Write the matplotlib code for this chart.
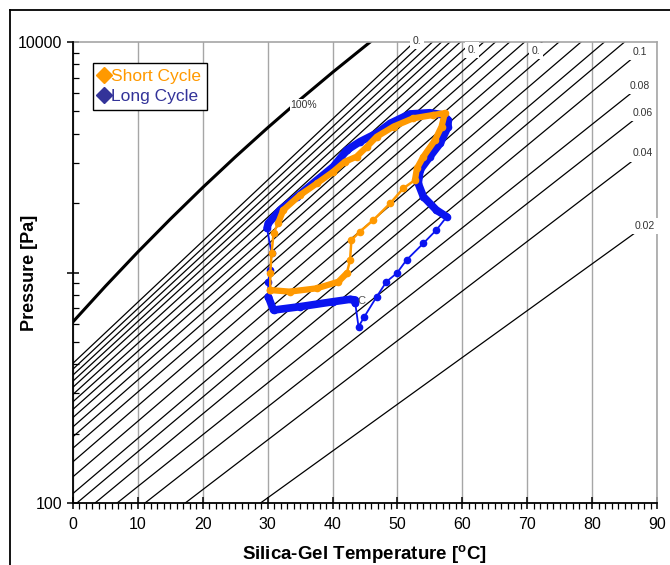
import matplotlib
matplotlib.use("Agg")
import matplotlib.pyplot as plt
from matplotlib.lines import Line2D
from matplotlib.ticker import FixedLocator, FixedFormatter, LogLocator, NullFormatter

plt.rcParams['font.family'] = ['Liberation Sans', 'DejaVu Sans']

# saturation (100 %) curve
sat_T = [0, 5, 10, 15, 20, 25, 30, 35, 40, 45, 45.8]
sat_P = [611, 872, 1228, 1705, 2339, 3169, 4246, 5628, 7384, 9593, 10000]

# isosteres hitting the left axis and ending at the top edge
iso_T0 = [0, 0, 0, 0, 0, 0, 0, 0, 0, 0, 0, 0, 0, 0, 0, 0.6]
iso_P0 = [404, 381, 359, 338, 318, 296, 275, 255, 235, 214, 194, 173, 151, 130, 110, 100]
iso_T1 = [52.6, 54.0, 55.4, 56.8, 58.1, 59.7, 61.5, 63.3, 65.1, 67.3, 69.6, 72.3, 74.9, 78.3, 81.9, 85.0]
iso_P1 = [10000] * 16

# labelled isosteres (start on bottom axis, end at the label)
lab_names = ['0.1', '0.08', '0.06', '0.04', '0.02']
lab_T0 = [3.4, 6.8, 11.1, 17.3, 28.9]
lab_T1 = [87.4, 87.4, 87.8, 87.8, 88.1]
lab_P1 = [9056, 6441, 4920, 3296, 1592]

# truncated labels at the top edge
top_T = [53.0, 61.5, 71.4]
top_P = [10093, 9225, 9138]

# Short cycle (orange)
short_T = [30.4, 33.4, 37.6, 40.9, 42.2, 42.7, 42.9, 44.2, 46.3, 48.9, 50.9, 52.7, 53.0, 54.0,
           55.8, 56.8, 57.3, 55.5, 52.4, 49.4, 46.8, 45.3, 43.7, 41.9, 40.1, 37.6, 35.0, 32.4,
           31.6, 30.9, 30.6, 30.4, 30.4]
short_P = [839, 826, 854, 912, 993, 1133, 1383, 1503, 1690, 1997, 2318, 2518, 2829, 3180,
           3758, 4296, 4910, 4823, 4665, 4296, 3882, 3515, 3180, 3025, 2737, 2437, 2168, 1866,
           1634, 1479, 1211, 993, 839]

# Long cycle (blue)
long_T = [30.1, 30.9, 35.0, 40.1, 42.7, 43.5, 43.5, 44.0, 44.9, 46.8, 48.3, 49.9, 51.4, 54.0,
          56.0, 57.6, 56.0, 54.0, 53.2, 53.5, 55.0, 56.6, 57.8, 57.8, 57.1, 55.0, 51.9, 48.9,
          46.8, 44.2, 42.2, 40.1, 37.6, 34.5, 31.9, 30.1, 29.9, 30.6, 30.4, 30.1, 30.1]
long_P = [785, 687, 711, 747, 765, 760, 735, 582, 643, 785, 912, 993, 1133, 1339,
          1529, 1745, 1866, 2132, 2437, 2785, 3180, 3637, 4296, 4592, 4823, 4933, 4872, 4439,
          4018, 3690, 3397, 2876, 2518, 2132, 1866, 1634, 1555, 1211, 1025, 912, 785]

# index ranges drawn as thick (dense) bands
short_thick = [(0, 4), (11, 28)]
long_thick = [(0, 6), (15, 36)]

fig = plt.figure(figsize=(6.7, 5.65), dpi=100)
ax = fig.add_axes([73 / 670, 62 / 565, 584 / 670, 461 / 565])
ax.set_yscale('log')
ax.set_xlim(0, 90)
ax.set_ylim(100, 10000)

ax.grid(True, axis='x', which='major', color='#a6a6a6', lw=1, zorder=0)

for t0, p0, t1, p1 in zip(iso_T0, iso_P0, iso_T1, iso_P1):
    ax.plot([t0, t1], [p0, p1], color='black', lw=0.9, zorder=2)
for t0, t1, p1 in zip(lab_T0, lab_T1, lab_P1):
    ax.plot([t0, t1], [100, p1], color='black', lw=0.9, zorder=2)
ax.plot(sat_T, sat_P, color='black', lw=2.2, zorder=2)

for name, t, p in zip(lab_names, lab_T1, lab_P1):
    ax.text(t, p, name, fontsize=7.5, color='#333333', ha='center', va='center', zorder=6,
            clip_on=False, bbox=dict(fc='white', ec='none', pad=2.5))
for t, p in zip(top_T, top_P):
    ax.text(t, p, '0.', fontsize=7.5, color='#333333', ha='center', va='center', zorder=6,
            clip_on=False, bbox=dict(fc='white', ec='none', pad=2))
ax.text(35.6, 5333, '100%', fontsize=7.5, color='#333333', ha='center', va='center', zorder=6,
        bbox=dict(fc='white', ec='none', pad=0.5))

orange = '#ff9900'
blue = '#0a14f0'
ax.plot(long_T, long_P, color=blue, lw=1.3, marker='o', ms=4.5, mec=blue, zorder=3)
for a, b in long_thick:
    ax.plot(long_T[a:b + 1], long_P[a:b + 1], color=blue, lw=5.5,
            solid_capstyle='round', solid_joinstyle='round', zorder=3)
ax.plot(short_T, short_P, color=orange, lw=1.8, marker='o', ms=4.5, mec=orange, zorder=4)
for a, b in short_thick:
    ax.plot(short_T[a:b + 1], short_P[a:b + 1], color=orange, lw=4.5,
            solid_capstyle='round', solid_joinstyle='round', zorder=4)
ax.text(44.4, 751, 'C', fontsize=8, color='#555555', ha='center', va='center', zorder=7)

# legend
h_short = Line2D([], [], color='#ff9900', marker='D', ls='none', ms=8)
h_long = Line2D([], [], color='#333399', marker='D', ls='none', ms=8)
leg = ax.legend([h_short, h_long], ['Short Cycle', 'Long Cycle'], loc='upper left',
                bbox_to_anchor=(0.034, 0.955), borderaxespad=0, fancybox=False,
                framealpha=1, edgecolor='black', fontsize=12.5, handlelength=0.6,
                handletextpad=0.1, borderpad=0.35, labelspacing=0.3)
leg.get_frame().set_linewidth(1.0)
leg.set_zorder(10)
for txt, c in zip(leg.get_texts(), ['#ff9900', '#333399']):
    txt.set_color(c)

# axes / ticks
ax.xaxis.set_major_locator(FixedLocator(range(0, 91, 10)))
ax.xaxis.set_minor_locator(FixedLocator(range(0, 91, 1)))
ax.yaxis.set_major_locator(FixedLocator([100, 1000, 10000]))
ax.yaxis.set_major_formatter(FixedFormatter(['100', '', '10000']))
ax.yaxis.set_minor_locator(LogLocator(base=10, subs=range(2, 10)))
ax.yaxis.set_minor_formatter(NullFormatter())
ax.tick_params(axis='both', which='major', direction='inout', length=8, width=1.1,
               labelsize=11.5, color='black')
ax.tick_params(axis='x', which='minor', direction='out', length=4, width=0.9)
ax.tick_params(axis='y', which='minor', direction='in', length=4, width=0.9)
ax.tick_params(axis='x', which='major', pad=6)
ax.tick_params(axis='y', which='major', pad=4)

for s in ['left', 'bottom']:
    ax.spines[s].set_linewidth(1.3)
    ax.spines[s].set_zorder(5)
for s in ['top', 'right']:
    ax.spines[s].set_color('#a6a6a6')
    ax.spines[s].set_linewidth(1.2)

ax.set_xlabel('Silica-Gel Temperature [$^{\\mathregular{o}}$C]', fontsize=13.5,
              fontweight='bold', labelpad=8)
ax.set_ylabel('Pressure [Pa]', fontsize=13, fontweight='bold')
ax.yaxis.set_label_coords(-0.06, 0.5)

# outer chart frame (left and top edges)
fig.add_artist(Line2D([10 / 670, 10 / 670], [0, 1 - 10 / 565], color='black', lw=1.3,
                      transform=fig.transFigure))
fig.add_artist(Line2D([10 / 670, 1], [1 - 10 / 565, 1 - 10 / 565], color='black', lw=1.3,
                      transform=fig.transFigure))

fig.savefig('out.png', dpi=100)
